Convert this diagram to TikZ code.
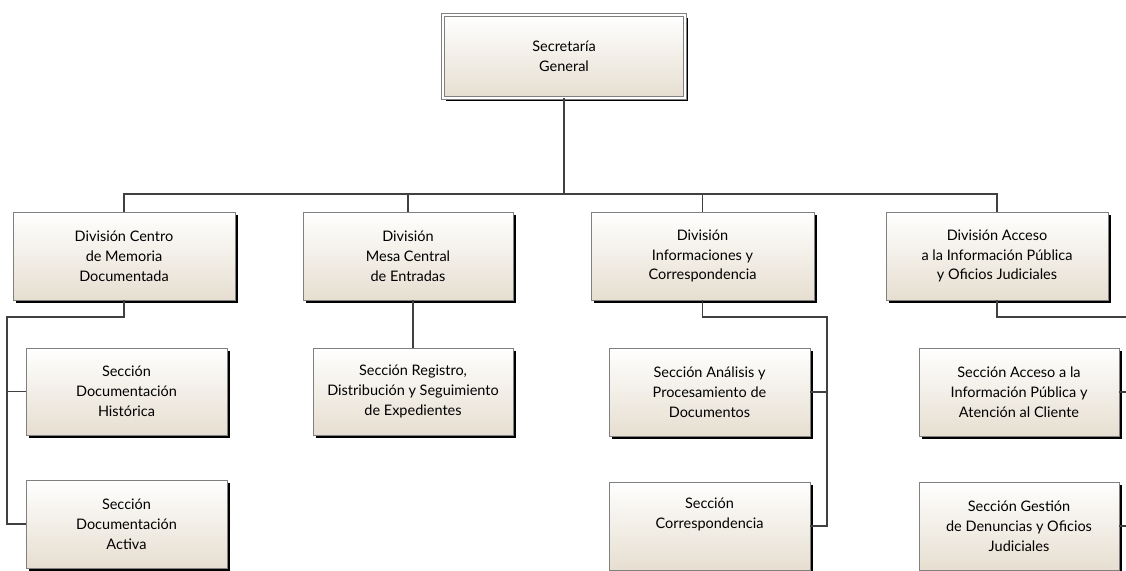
\documentclass[tikz,border=0pt]{standalone}
\usepackage{fontspec}
\setmainfont{Lato}
\usetikzlibrary{shadows}
\definecolor{boxbot}{RGB}{230,222,208}
\definecolor{boxline}{RGB}{128,128,128}
\definecolor{conn}{RGB}{64,64,64}
\tikzset{
  orgbox/.style={draw=boxline, line width=0.9pt, top color=white, bottom color=boxbot,
    general shadow={fill=black, shadow xshift=3pt, shadow yshift=-3pt},
    align=center, inner sep=0pt, font=\fontsize{14.5}{19.8}\selectfont, text=black},
  topbox/.style={orgbox, double=white, double distance=2.5pt},
  link/.style={draw=conn, line width=1.4pt}
}
\begin{document}
\begin{tikzpicture}[x=1pt,y=-1pt]
\useasboundingbox (0,0) rectangle (1126,570);
\clip (0,0) rectangle (1126,570);
\node[topbox, minimum width=242pt, minimum height=83pt] (sg) at (564,56.5) {Secretaría\\General};

\node[orgbox, minimum width=222pt, minimum height=88pt] (d1) at (124,256) {División Centro\\de Memoria\\Documentada};
\node[orgbox, minimum width=210pt, minimum height=88pt] (d2) at (408,256) {División\\Mesa Central\\de Entradas};
\node[orgbox, minimum width=223pt, minimum height=88pt] (d3) at (702.5,256) {División\\Informaciones y\\Correspondencia};
\node[orgbox, minimum width=222pt, minimum height=88pt] (d4) at (997,256) {División Acceso\\a la Información Pública\\y Oficios Judiciales};

\node[orgbox, minimum width=201pt, minimum height=87pt] (s1a) at (126.5,391.5) {Sección\\Documentación\\Histórica};
\node[orgbox, minimum width=201pt, minimum height=88pt] (s1b) at (126.5,524) {Sección\\Documentación\\Activa};
\node[orgbox, minimum width=200pt, minimum height=87pt] (s2a) at (413,391.5) {Sección Registro,\\Distribución y Seguimiento\\de Expedientes};
\node[orgbox, minimum width=201pt, minimum height=88pt] (s3a) at (709.5,392) {Sección Análisis y\\Procesamiento de\\Documentos};
\node[orgbox, minimum width=201pt, minimum height=88pt] (s3b) at (709.5,526) {Sección\\Correspondencia\\\strut};
\node[orgbox, minimum width=200pt, minimum height=88pt] (s4a) at (1019,392) {Sección Acceso a la\\Información Pública y\\Atención al Cliente};
\node[orgbox, minimum width=200pt, minimum height=88pt] (s4b) at (1019,526) {Sección Gestión\\de Denuncias y Oficios\\Judiciales};

\coordinate (bus) at (564,194);
\coordinate (t1) at (7,317);
\coordinate (t3) at (827,317);
\coordinate (t4) at (1140,317);

\draw[link] (sg.south) -- (bus);
\draw[link] (d1.north) -- (d1.north |- bus) -- (d4.north |- bus) -- (d4.north);
\draw[link] (d2.north) -- (d2.north |- bus);
\draw[link] (d3.north) -- (d3.north |- bus);

\draw[link] (d1.south) -- (d1.south |- t1) -- (t1) -- (t1 |- s1b.west) -- (s1b.west);
\draw[link] (t1 |- s1a.west) -- (s1a.west);
\draw[link] (s2a.north) -- (s2a.north |- d2.south);
\draw[link] (d3.south) -- (d3.south |- t3) -- (t3) -- (t3 |- s3b.east) -- (s3b.east);
\draw[link] (t3 |- s3a.east) -- (s3a.east);
\draw[link] (d4.south) -- (d4.south |- t4) -- (t4) -- (t4 |- s4b.east) -- (s4b.east);
\draw[link] (t4 |- s4a.east) -- (s4a.east);
\end{tikzpicture}
\end{document}
